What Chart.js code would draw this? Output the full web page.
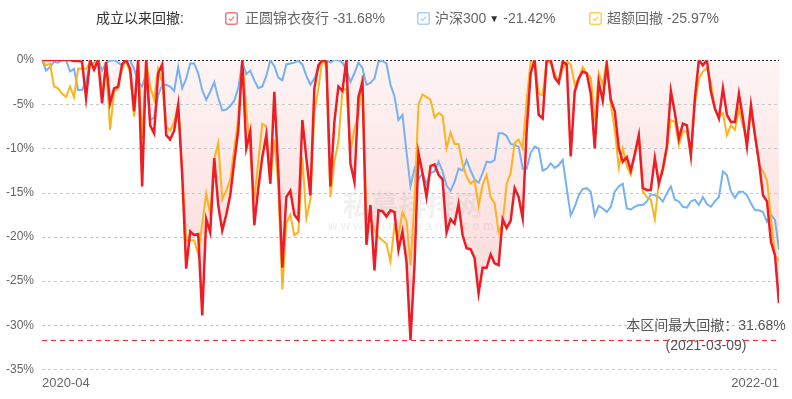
<!DOCTYPE html>
<html>
<head>
<meta charset="utf-8">
<script src="https://cdn.jsdelivr.net/npm/chart.js@4.4.1/dist/chart.umd.min.js"></script>
<style>
  html, body { margin: 0; padding: 0; background: #fff; }
  #wrap { position: relative; width: 792px; height: 399px; overflow: hidden; }
  #c { position: absolute; left: 0; top: 0; }
  .lg { position: absolute; top: 8px; height: 20px; line-height: 20px; font-size: 14px; white-space: nowrap;
        font-family: "Liberation Sans", "Noto Sans CJK SC", sans-serif; color: #666; }
  .lg svg { position: absolute; top: 4px; left: 0; }
  .lg span.t { position: absolute; top: 0; }
  .tri { font-size: 10px; color: #333; margin: 0 4px 0 3px; position: relative; top: -1px; }
</style>
</head>
<body>
<div id="wrap">
  <canvas id="c" width="792" height="399"></canvas>
</div>
<script>
// ---------------- data ----------------
const seriesNames = ['正圆锦衣夜行', '沪深300', '超额回撤'];
const legendTitle = '成立以来回撤:';
const xTickLabels = ['2020-04', '2022-01'];
const maxDDDate = '2021-03-09';

// 正圆锦衣夜行 drawdown (%)
const fundDD = [
  0,0,0,0,0,0,0,0,-0.1,-0.1,-0.2,-4.3,0,-1.1,0,-4.9,-0.2,-4.9,-3.2,-3.0,-0.5,0,-1.0,-5.8,0,-14.3,0,-7.4,-8.3,-1.5,-0.5,
  -8.5,-9.0,-8.0,-5.1,-13.0,-23.6,-19.4,-19.8,-19.7,-28.9,-18.0,-19.5,-11.1,-16.4,-19.3,-17.5,-15.3,-11.5,-8.0,0,-10.0,-8.1,-18.7,-14.5,-11.0,-8.5,-14.0,-3.6,-12.6,-23.5,
  -15.5,
  -14.8,-17.5,-18.1,-6.8,-11.1,-15.3,-3.2,-0.6,0,-0.2,-14.3,-7.0,-3.0,-3.5,0,-11.7,-13.8,-4.2,-2.5,-20.9,-16.4,-23.8,-17.0,-17.1,-17.7,-17.0,-17.2,-21.5,-19.4,-22.8,-31.68,
  -23.2,-10.5,-12.8,-15.5,-12.0,-11.8,-13.0,-13.5,-19.5,-18.0,-18.5,-16.3,-19.8,-21.3,-21.4,-22.4,-26.4,-23.5,-23.5,-22.0,-23.0,-23.2,-18.0,-19.0,-18.2,-14.5,-15.5,-17.9,-8.0,-1.5,
  0,-6.2,-6.6,0,0,-2.0,-2.6,-0.2,-0.5,-10.9,-3.6,-2.1,-1.3,-1.5,-3.8,-10.0,-2.5,-4.6,-0.5,-4.5,-5.8,-10.0,-11.5,-11.0,-12.5,-10.7,-8.5,-14.5,-14.7,-14.7,-11.1,
  -14.0,-12.3,-9.8,-3.5,-6.0,-8.9,-7.2,-7.4,-10.8,-4.3,0,-0.6,0,-3.6,-5.5,-6.6,-3.2,-6.2,-7.0,-7.0,-3.8,-6.6,-9.8,-5.1,-8.5,-11.5,-15.3,-16.0,-20.6,-22.1,-27.5
];

// 沪深300 drawdown (%)
const hs300DD = [
  0,-1.2,-0.8,-0.2,-0.3,0,0,-1.3,-1.0,-3.4,-3.4,-2.5,-0.5,-0.3,0,-1.2,-0.3,-0.1,0,-0.3,-0.6,0,-0.1,-1.0,-2.5,-3.0,-1.5,-6.8,-6.5,-4.0,-2.8,
  -2.8,-3.0,-3.5,-0.8,-3.2,-2.1,-0.4,-0.4,-1.5,-3.4,-4.5,-3.6,-2.5,-4.3,-5.7,-5.6,-5.2,-4.6,-3.2,-0.2,-1.6,-1.2,-2.3,-3.2,-3.0,-1.8,0,-0.7,-2.0,-2.3,
  -0.5,
  -0.4,-0.3,-0.1,-0.5,-1.8,-2.8,-2.1,-1.0,0,0,-0.3,0,0,-0.3,-1.1,-2.5,-1.5,-0.3,-0.9,-2.8,-2.6,-2.1,-0.2,-0.1,-0.4,-2.8,-4.1,-6.8,-6.2,-10.4,-14.3,
  -12.3,-13.5,-12.8,-14.0,-12.8,-12.6,-11.5,-12.6,-14.2,-14.8,-13.8,-12.3,-12.5,-11.3,-12.5,-13.5,-13.9,-12.8,-11.5,-11.6,-11.3,-8.3,-8.3,-8.6,-9.5,-9.6,-9.8,-12.3,-12.3,-10.5,
  -9.8,-10.0,-12.5,-12.3,-11.7,-12.2,-11.9,-11.3,-14.5,-17.6,-16.6,-15.3,-14.6,-14.5,-14.9,-17.6,-16.5,-16.8,-17.2,-16.6,-14.9,-14.3,-14.0,-16.8,-16.9,-16.6,-16.4,-16.4,-16.0,-15.2,-15.3,
  -15.5,-16.0,-15.1,-14.3,-15.8,-16.0,-16.6,-16.7,-16.0,-15.8,-16.4,-15.5,-16.3,-16.6,-16.0,-15.5,-12.6,-13.0,-14.9,-15.6,-14.9,-14.9,-15.3,-16.2,-17.0,-17.0,-17.2,-18.3,-17.5,-18.1,-21.42
];

// 超额回撤 drawdown (%)
const excessDD = [
  0,-0.6,-0.4,-3.0,-3.2,-3.8,-4.2,-3.0,-4.2,-1.0,-1.0,-1.0,-0.3,-0.5,0,-3.8,-0.5,-7.9,-3.6,-3.2,-1.0,0,-1.5,-6.4,-0.5,-9.0,0,-3.0,-4.5,-1.0,-2.5,
  -7.5,-8.0,-7.0,-5.0,-12.5,-20.4,-20.4,-20.4,-22.0,-18.5,-15.1,-17.5,-11.2,-9.4,-15.8,-14.8,-13.5,-10.0,-6.6,0,-5.5,-10.5,-15.7,-11.5,-7.2,-7.5,-14.0,-9.0,-14.3,-25.97,
  -18.5,
  -17.5,-19.8,-19.5,-11.0,-17.9,-15.8,-6.0,-3.2,0,-0.8,-15.5,-11.5,-9.2,-3.5,-3.2,-10.4,-7.8,-6.2,-1.7,-18.0,-17.9,-19.2,-20.0,-20.4,-20.8,-22.8,-18.8,-19.8,-17.2,-18.2,-23.2,
  -16.0,-5.0,-3.9,-4.2,-4.5,-6.5,-6.0,-6.3,-10.0,-8.2,-9.5,-9.5,-11.8,-13.2,-14.0,-13.6,-16.5,-14.1,-13.0,-15.5,-16.2,-19.5,-18.5,-14.0,-12.8,-9.4,-9.0,-10.0,-4.6,-0.2,
  -0.2,-3.8,-4.0,-0.2,-0.3,-1.5,-2.5,-1.0,-0.2,-0.5,-2.8,-2.1,-0.8,-1.5,-2.0,-7.0,-1.5,-2.8,0,-5.0,-8.0,-12.2,-10.0,-12.0,-13.0,-10.4,-8.5,-14.9,-15.5,-15.8,-18.0,
  -13.8,-12.6,-10.0,-6.8,-7.0,-9.6,-8.1,-8.1,-10.8,-4.9,-2.1,-1.3,-0.9,-2.6,-5.5,-6.4,-6.0,-8.5,-7.4,-7.9,-5.5,-7.5,-8.7,-6.0,-8.5,-11.9,-12.6,-13.6,-17.9,-22.1,-22.8
];

// ---------------- styling ----------------
const FONT = '"Liberation Sans", "Noto Sans CJK SC", sans-serif';
const colors = ['#ee1c25', '#76b2f3', '#fdb31e'];
const boxColors = ['#f07a7a', '#a9cdf6', '#fdcd5c'];
const N = fundDD.length;
const idx = fundDD.map((_, i) => i);
const series = [fundDD, hs300DD, excessDD];
const mins = series.map(s => Math.min(...s));
const maxDD = mins[0];

// ---------------- legend (HTML) ----------------
const wrap = document.getElementById('wrap');
const title = document.createElement('div');
title.className = 'lg';
title.style.left = '96px';
title.style.color = '#333';
title.textContent = legendTitle;
wrap.appendChild(title);
const legendX = [225, 417, 589];
seriesNames.forEach((name, k) => {
  const d = document.createElement('div');
  d.className = 'lg';
  d.style.left = legendX[k] + 'px';
  const c = boxColors[k];
  d.innerHTML =
    '<svg width="13" height="13" viewBox="0 0 13 13"><rect x="0.75" y="0.75" width="11.5" height="11.5" rx="2" fill="#fff" stroke="' + c + '" stroke-width="1.5"/>' +
    '<path d="M3.8 6.6 L5.7 8.4 L9.2 4.8" stroke="' + c + '" stroke-width="1.3" fill="none"/></svg>' +
    '<span class="t" style="left:' + (k === 0 ? 20 : 18) + 'px">' + name +
    (k === 1 ? '<span class="tri">▼</span>' : ' ') +
    mins[k].toFixed(2) + '%</span>';
  wrap.appendChild(d);
});

// ---------------- plugin for grid, watermark, annotation ----------------
const decor = {
  id: 'decor',
  beforeDatasetsDraw(chart) {
    const { ctx, chartArea: a, scales: { y } } = chart;
    ctx.save();
    // watermark
    const cx = (a.left + a.right) / 2 + 2;
    ctx.fillStyle = 'rgba(150,150,150,0.13)';
    ctx.textAlign = 'center';
    ctx.textBaseline = 'middle';
    ctx.font = 'bold 28px "Noto Sans CJK SC", sans-serif';
    ctx.fillText('私募排排网', cx, 205);
    ctx.font = 'bold 12px ' + FONT;
    if ('letterSpacing' in ctx) ctx.letterSpacing = '3.2px';
    ctx.fillText('www.simuwang.com', cx, 227);
    if ('letterSpacing' in ctx) ctx.letterSpacing = '0px';
    // grid lines
    y.ticks.forEach(t => {
      const py = Math.round(y.getPixelForValue(t.value)) + 0.5;
      ctx.beginPath();
      ctx.lineWidth = 1;
      if (t.value === 0) { ctx.strokeStyle = '#222'; ctx.setLineDash([2, 2]); }
      else { ctx.strokeStyle = '#c8c8c8'; ctx.setLineDash([3, 3]); }
      ctx.moveTo(a.left, py);
      ctx.lineTo(a.right, py);
      ctx.stroke();
    });
    // max drawdown line
    const my = Math.round(y.getPixelForValue(maxDD)) + 0.5;
    ctx.beginPath();
    ctx.lineWidth = 1.2;
    ctx.strokeStyle = '#f0282e';
    ctx.setLineDash([5, 4]);
    ctx.moveTo(a.left, my);
    ctx.lineTo(a.right, my);
    ctx.stroke();
    ctx.restore();
  },
  afterDraw(chart) {
    const { ctx, scales: { y } } = chart;
    ctx.save();
    ctx.fillStyle = '#555';
    ctx.font = '14px ' + FONT;
    ctx.textAlign = 'center';
    ctx.textBaseline = 'middle';
    const my = y.getPixelForValue(maxDD);
    ctx.fillText('本区间最大回撤：' + Math.abs(maxDD).toFixed(2) + '%', 706, my - 14);
    ctx.fillText('(' + maxDDDate + ')', 706, my + 6);
    ctx.restore();
  }
};

function fillGrad(c) {
  const chart = c.chart;
  if (!chart.chartArea) return 'rgba(238,60,60,0.1)';
  const y = chart.scales.y;
  const g = chart.ctx.createLinearGradient(0, y.getPixelForValue(0), 0, y.getPixelForValue(-30));
  g.addColorStop(0, 'rgba(238,60,60,0.06)');
  g.addColorStop(1, 'rgba(238,60,60,0.20)');
  return g;
}

new Chart(document.getElementById('c'), {
  type: 'line',
  data: {
    labels: idx,
    datasets: [
      { label: seriesNames[0], data: fundDD, borderColor: colors[0], backgroundColor: fillGrad,
        fill: 'origin', borderWidth: 2.5, pointRadius: 0, tension: 0, order: 0 },
      { label: seriesNames[2], data: excessDD, borderColor: colors[2], fill: false,
        borderWidth: 2, pointRadius: 0, tension: 0, order: 1 },
      { label: seriesNames[1], data: hs300DD, borderColor: colors[1], fill: false,
        borderWidth: 2, pointRadius: 0, tension: 0, order: 2 }
    ]
  },
  options: {
    responsive: false,
    animation: false,
    events: [],
    layout: { padding: { top: 60, right: 13, bottom: 2, left: 0 } },
    plugins: {
      legend: { display: false },
      tooltip: { enabled: false },
      filler: { drawTime: 'beforeDatasetsDraw' }
    },
    scales: {
      x: {
        type: 'linear', min: 0, max: N - 1,
        grid: { display: false, drawTicks: false },
        border: { display: false },
        afterBuildTicks: s => { s.ticks = [{ value: 0 }, { value: N - 1 }]; },
        ticks: {
          align: 'inner', autoSkip: false, maxRotation: 0, padding: 6, color: '#666',
          font: { size: 13, family: FONT },
          callback: (v, i) => xTickLabels[i]
        }
      },
      y: {
        min: -35, max: 0,
        afterFit: s => { s.width = 42; },
        grid: { display: false, drawTicks: false },
        border: { display: false },
        ticks: { stepSize: 5, color: '#666', padding: 8, font: { size: 12, family: FONT },
                 callback: v => v + '%' }
      }
    }
  },
  plugins: [decor]
});
</script>
</body>
</html>
